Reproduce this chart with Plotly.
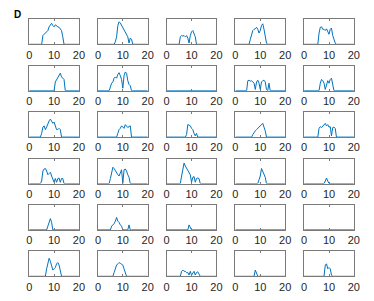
import numpy as np
import plotly.graph_objects as go

# ---- data: each panel = start x + profile values sampled every 0.5 on x ----
x_step = 0.5
x_min, x_max = 0, 20
x_ticks = [0, 10, 20]
panel_label = "D"

row1_starts = [5, 6.5, 5, 5.5, 5.5]
row1_profiles = [
    [0, 0.35, 0.4, 0.42, 0.5, 0.55, 0.7, 0.75, 0.84, 0.75, 0.7, 0.78, 0.72, 0.7, 0.68, 0.6, 0.55, 0.3, 0],
    [0, 0.1, 0.3, 0.75, 0.9, 0.85, 0.75, 0.65, 0.55, 0.45, 0.35, 0.3, 0.05, 0.25, 0.2, 0],
    [0, 0.3, 0.35, 0.33, 0.35, 0.3, 0.35, 0.25, 0.05, 0.35, 0.5, 0.55, 0.45, 0.3, 0],
    [0, 0.2, 0.45, 0.55, 0.6, 0.62, 0.68, 0.6, 0.45, 0.55, 0.75, 0.82, 0.6, 0.3, 0.05, 0],
    [0, 0.45, 0.68, 0.7, 0.6, 0.6, 0.55, 0.62, 0.5, 0.4, 0.6, 0.65, 0.35, 0.15, 0.05, 0],
]
row2_starts = [10, 4.5, 0, 4.5, 6]
row2_profiles = [
    [0, 0.35, 0.45, 0.5, 0.6, 0.7, 0.55, 0.5, 0.45, 0],
    [0, 0.15, 0.3, 0.35, 0.5, 0.55, 0.5, 0.65, 0.72, 0.6, 0.45, 0.1, 0.6, 0.75, 0.7, 0.4, 0.25, 0.2, 0],
    [],
    [0, 0.4, 0.42, 0.38, 0.4, 0.35, 0.3, 0.05, 0.35, 0.42, 0.3, 0.05, 0.35, 0.4, 0.42, 0.35, 0.05, 0, 0.3, 0],
    [0, 0.3, 0.45, 0.4, 0.3, 0.05, 0.3, 0.4, 0.3, 0.45, 0.5, 0.2, 0],
]
row3_starts = [4.5, 7.5, 7.5, 6.5, 5.5]
row3_profiles = [
    [0, 0.15, 0.4, 0.45, 0.3, 0.4, 0.55, 0.65, 0.72, 0.6, 0.55, 0.6, 0.4, 0.3, 0.3, 0.35, 0.3, 0],
    [0, 0.15, 0.3, 0.35, 0.45, 0.4, 0.35, 0.5, 0.45, 0.38, 0.42, 0.45, 0],
    [0, 0.1, 0.5, 0.48, 0.45, 0.35, 0.3, 0.15, 0.05, 0.15, 0],
    [0, 0.1, 0.2, 0.25, 0.3, 0.35, 0.4, 0.45, 0.5, 0.55, 0.4, 0.25, 0],
    [0, 0.35, 0.42, 0.38, 0.45, 0.5, 0.55, 0.45, 0.5, 0.4, 0.42, 0.05, 0.38, 0.4, 0.35, 0],
]
row4_starts = [4.5, 4.5, 5.5, 9, 8]
row4_profiles = [
    [0, 0.1, 0.5, 0.58, 0.6, 0.5, 0.35, 0.4, 0.45, 0.3, 0.15, 0.05, 0.2, 0.05, 0.2, 0.22, 0.05, 0.2, 0.2, 0],
    [0, 0.2, 0.5, 0.65, 0.6, 0.5, 0.42, 0.35, 0.3, 0.45, 0.55, 0.0, 0.55, 0.58, 0.5, 0.35, 0.25, 0],
    [0, 0.3, 0.65, 0.82, 0.7, 0.6, 0.55, 0.4, 0.35, 0.05, 0.25, 0.28, 0.05, 0.2, 0.22, 0.2, 0],
    [0, 0.15, 0.3, 0.6, 0.5, 0.4, 0.25, 0],
    [0, 0.1, 0.22, 0.1, 0],
]
row5_starts = [7, 5, 8.5, 0, 0]
row5_profiles = [
    [0, 0.15, 0.35, 0.45, 0.3, 0],
    [0, 0.15, 0.2, 0.25, 0.35, 0.5, 0.35, 0.3, 0.2, 0.15, 0, 0, 0, 0, 0, 0.2, 0],
    [0, 0.2, 0.12, 0],
    [],
    [],
]
row6_starts = [6.5, 6, 5.5, 7.5, 8]
row6_profiles = [
    [0, 0.3, 0.6, 0.72, 0.6, 0.35, 0.25, 0.3, 0.35, 0.5, 0.55, 0.45, 0.15, 0],
    [0, 0.15, 0.35, 0.45, 0.5, 0.55, 0.52, 0.5, 0.45, 0.3, 0.15, 0],
    [0, 0.2, 0.25, 0.2, 0.2, 0.15, 0.15, 0.05, 0.2, 0.05, 0.15, 0.2, 0.05, 0.15, 0.18, 0.1, 0],
    [0, 0.25, 0.15, 0],
    [0, 0.45, 0.5, 0.3, 0.35, 0.3, 0.05, 0],
]

rows_starts = [row1_starts, row2_starts, row3_starts, row4_starts, row5_starts, row6_starts]
rows_profiles = [row1_profiles, row2_profiles, row3_profiles, row4_profiles, row5_profiles, row6_profiles]

# ---- layout (page has an 8px body margin, so the figure is 16px smaller) ----
PAGE_OFF = 8
W, H = 374 - 2 * PAGE_OFF, 301 - 2 * PAGE_OFF
left0, dxp, wbox = 26.7 - PAGE_OFF, 70.5, 51.0
top0, dyp, hbox = 19.3 - PAGE_OFF, 46.4, 25.0
line_color = "#0072BD"
frame_color = "#7a7a7a"
font_family = "Arial, Liberation Sans, Helvetica, sans-serif"

fig = go.Figure()
layout = dict(
    width=W, height=H,
    margin=dict(l=0, r=0, t=0, b=0),
    paper_bgcolor="white", plot_bgcolor="white",
    showlegend=False,
    font=dict(family=font_family, size=11, color="#262626"),
)

xs = np.arange(x_min, x_max + 1e-9, x_step)
for r in range(6):
    for c in range(5):
        k = r * 5 + c + 1
        ys = np.zeros_like(xs)
        prof = rows_profiles[r][c]
        if prof:
            i0 = int(round(rows_starts[r][c] / x_step))
            ys[i0:i0 + len(prof)] = prof
        xname = "x" if k == 1 else f"x{k}"
        yname = "y" if k == 1 else f"y{k}"
        fig.add_trace(go.Scatter(x=xs, y=ys, mode="lines",
                                 line=dict(color=line_color, width=1),
                                 xaxis=xname, yaxis=yname, hoverinfo="skip"))
        x0 = left0 + c * dxp
        y0 = top0 + r * dyp
        xd = [x0 / W, (x0 + wbox) / W]
        yd = [1 - (y0 + hbox) / H, 1 - y0 / H]
        xkey = "xaxis" if k == 1 else f"xaxis{k}"
        ykey = "yaxis" if k == 1 else f"yaxis{k}"
        layout[xkey] = dict(
            domain=xd, anchor=yname, range=[x_min, x_max],
            tickvals=x_ticks, ticktext=[str(t) for t in x_ticks],
            ticks="inside", ticklen=2, tickwidth=1, tickcolor=frame_color,
            showline=True, linecolor=frame_color, linewidth=1, mirror="ticks",
            showgrid=False, zeroline=False,
            tickfont=dict(family=font_family, size=11, color="#262626"),
        )
        layout[ykey] = dict(
            domain=yd, anchor=xname, range=[0, 1],
            showticklabels=False, ticks="",
            showline=True, linecolor=frame_color, linewidth=1, mirror=True,
            showgrid=False, zeroline=False,
        )

layout["annotations"] = [dict(
    text=f"<b>{panel_label}</b>", x=(10 - PAGE_OFF) / W, y=1.0,
    xref="paper", yref="paper",
    xanchor="left", yanchor="top", showarrow=False, borderpad=0,
    font=dict(family=font_family, size=10, color="black"),
)]

fig.update_layout(**layout)
fig.write_html("out.html")
